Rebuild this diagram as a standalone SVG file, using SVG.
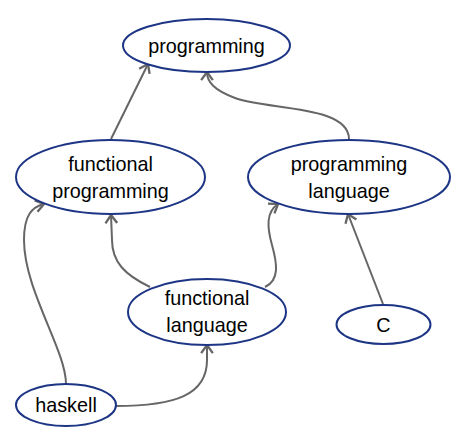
<svg xmlns="http://www.w3.org/2000/svg" width="463" height="435" viewBox="0 0 463 435">
<style>
.node ellipse{fill:#fff;stroke:#1d3585;stroke-width:2}
.node text{font-family:"Liberation Sans",Arial,sans-serif;font-size:19.8px;fill:#000;text-anchor:middle}
.edges path{fill:none;stroke:#666;stroke-width:2;marker-end:url(#arr)}
</style>
<defs>
<marker id="arr" markerUnits="userSpaceOnUse" markerWidth="14" markerHeight="14" refX="10" refY="6" orient="auto" viewBox="0 0 12 12">
<polyline points="3,1 10,6 3,11" fill="none" stroke="#666" stroke-width="2"/>
</marker>
</defs>
<rect width="463" height="435" fill="#fff"/>
<g class="edges">
<path d="M111,139 L148,64"/>
<path d="M349,139 C349,105 267,110 235,98 C214,90 207,82 207,72"/>
<path d="M150,287 C125,275 112,262 112,240 L111,215"/>
<path d="M265,287 C280,280 277,263 272,245 C267,227 266,212 278,204"/>
<path d="M383,304 L348,214"/>
<path d="M66,384 C66,350 24,290 24,240 C24,215 32,207 44,204"/>
<path d="M116,406 C175,406 207,395 207,360 L207,345"/>
</g>
<g id="programming" class="node"><ellipse cx="206.5" cy="45.5" rx="83.5" ry="26.5"/><text x="206.5" y="52.5">programming</text></g>
<g id="functional_programming" class="node"><ellipse cx="110.5" cy="177" rx="94.5" ry="37"/><text x="110.5" y="171">functional</text><text x="110.5" y="198">programming</text></g>
<g id="programming_language" class="node"><ellipse cx="349" cy="177" rx="101" ry="37"/><text x="349" y="171">programming</text><text x="349" y="198">language</text></g>
<g id="functional_language" class="node"><ellipse cx="207" cy="312" rx="79" ry="33"/><text x="207" y="305">functional</text><text x="207" y="332">language</text></g>
<g id="C" class="node"><ellipse cx="383.5" cy="324.5" rx="47" ry="19.5"/><text x="383.5" y="331.5">C</text></g>
<g id="haskell" class="node"><ellipse cx="66" cy="405" rx="50" ry="21"/><text x="66" y="412">haskell</text></g>
</svg>
